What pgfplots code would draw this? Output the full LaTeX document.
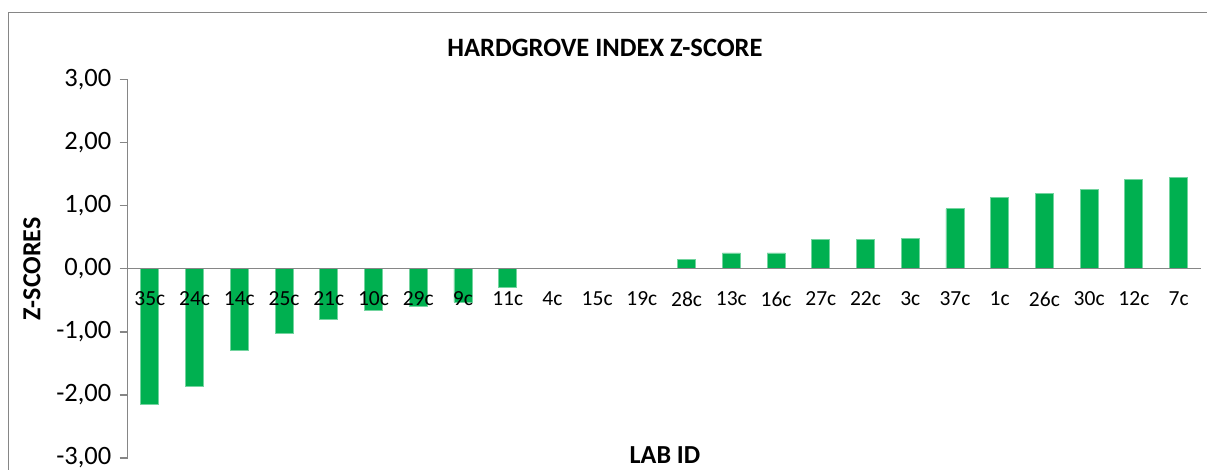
\documentclass[border=0pt]{standalone}
\usepackage{pgfplots}
\pgfplotsset{compat=1.18}
\usepackage{fontspec}
\setmainfont{Carlito}
\definecolor{barg}{HTML}{00B050}
\definecolor{axgrey}{HTML}{868686}
\begin{document}
\begin{tikzpicture}[x=1pt,y=1pt]
\useasboundingbox (0,0) rectangle (1207,470);
\draw[color=axgrey, line width=1.5pt] (8.5,-5) -- (8.5,457.5) -- (1215,457.5);
\begin{axis}[
  at={(127.5pt,12pt)}, anchor=south west,
  scale only axis, width=1073.5pt, height=378.5pt,
  xmin=-0.5, xmax=23.5, ymin=-3, ymax=3,
  axis x line*=middle, axis y line*=left,
  axis line style={color=axgrey, line width=1.5pt},
  axis on top,
  xtick={0,...,23},
  xticklabels={35c,24c,14c,25c,21c,10c,29c,9c,11c,4c,15c,19c,28c,13c,16c,27c,22c,3c,37c,1c,26c,30c,12c,7c},
  x tick style={draw=none},
  xticklabel style={anchor=north, inner sep=0pt, yshift=-15pt, font=\fontsize{21.5}{25}\selectfont},
  ytick={-3,-2,...,3},
  yticklabel={\pgfmathprintnumber{\tick}},
  tick align=outside,
  major tick length=8pt,
  y tick style={color=axgrey, line width=1.5pt},
  yticklabel style={anchor=east, inner sep=0pt, xshift=-8pt, font=\fontsize{26.5}{30}\selectfont},
  /pgf/number format/.cd, fixed, fixed zerofill, precision=2, use comma, assume math mode=true,
]
\addplot[ybar, bar width=18pt, fill=barg, draw=barg!55!white, line width=0.8pt] table[x=i, y=z] {
i z
0 -2.15
1 -1.87
2 -1.30
3 -1.03
4 -0.81
5 -0.66
6 -0.60
7 -0.53
8 -0.29
9 0
10 0
11 0
12 0.15
13 0.25
14 0.25
15 0.46
16 0.47
17 0.48
18 0.95
19 1.13
20 1.20
21 1.25
22 1.42
23 1.45
};
\end{axis}
\node[font=\bfseries\fontsize{26.5}{30}\selectfont] at (605,422.5) {HARDGROVE INDEX Z-SCORE};
\node[font=\bfseries\fontsize{26}{30}\selectfont, inner sep=0pt, anchor=base] at (665,6) {LAB ID};
\node[font=\bfseries\fontsize{26}{30}\selectfont, rotate=90, inner sep=0pt] at (32,201.2) {Z-SCORES};
\end{tikzpicture}
\end{document}
